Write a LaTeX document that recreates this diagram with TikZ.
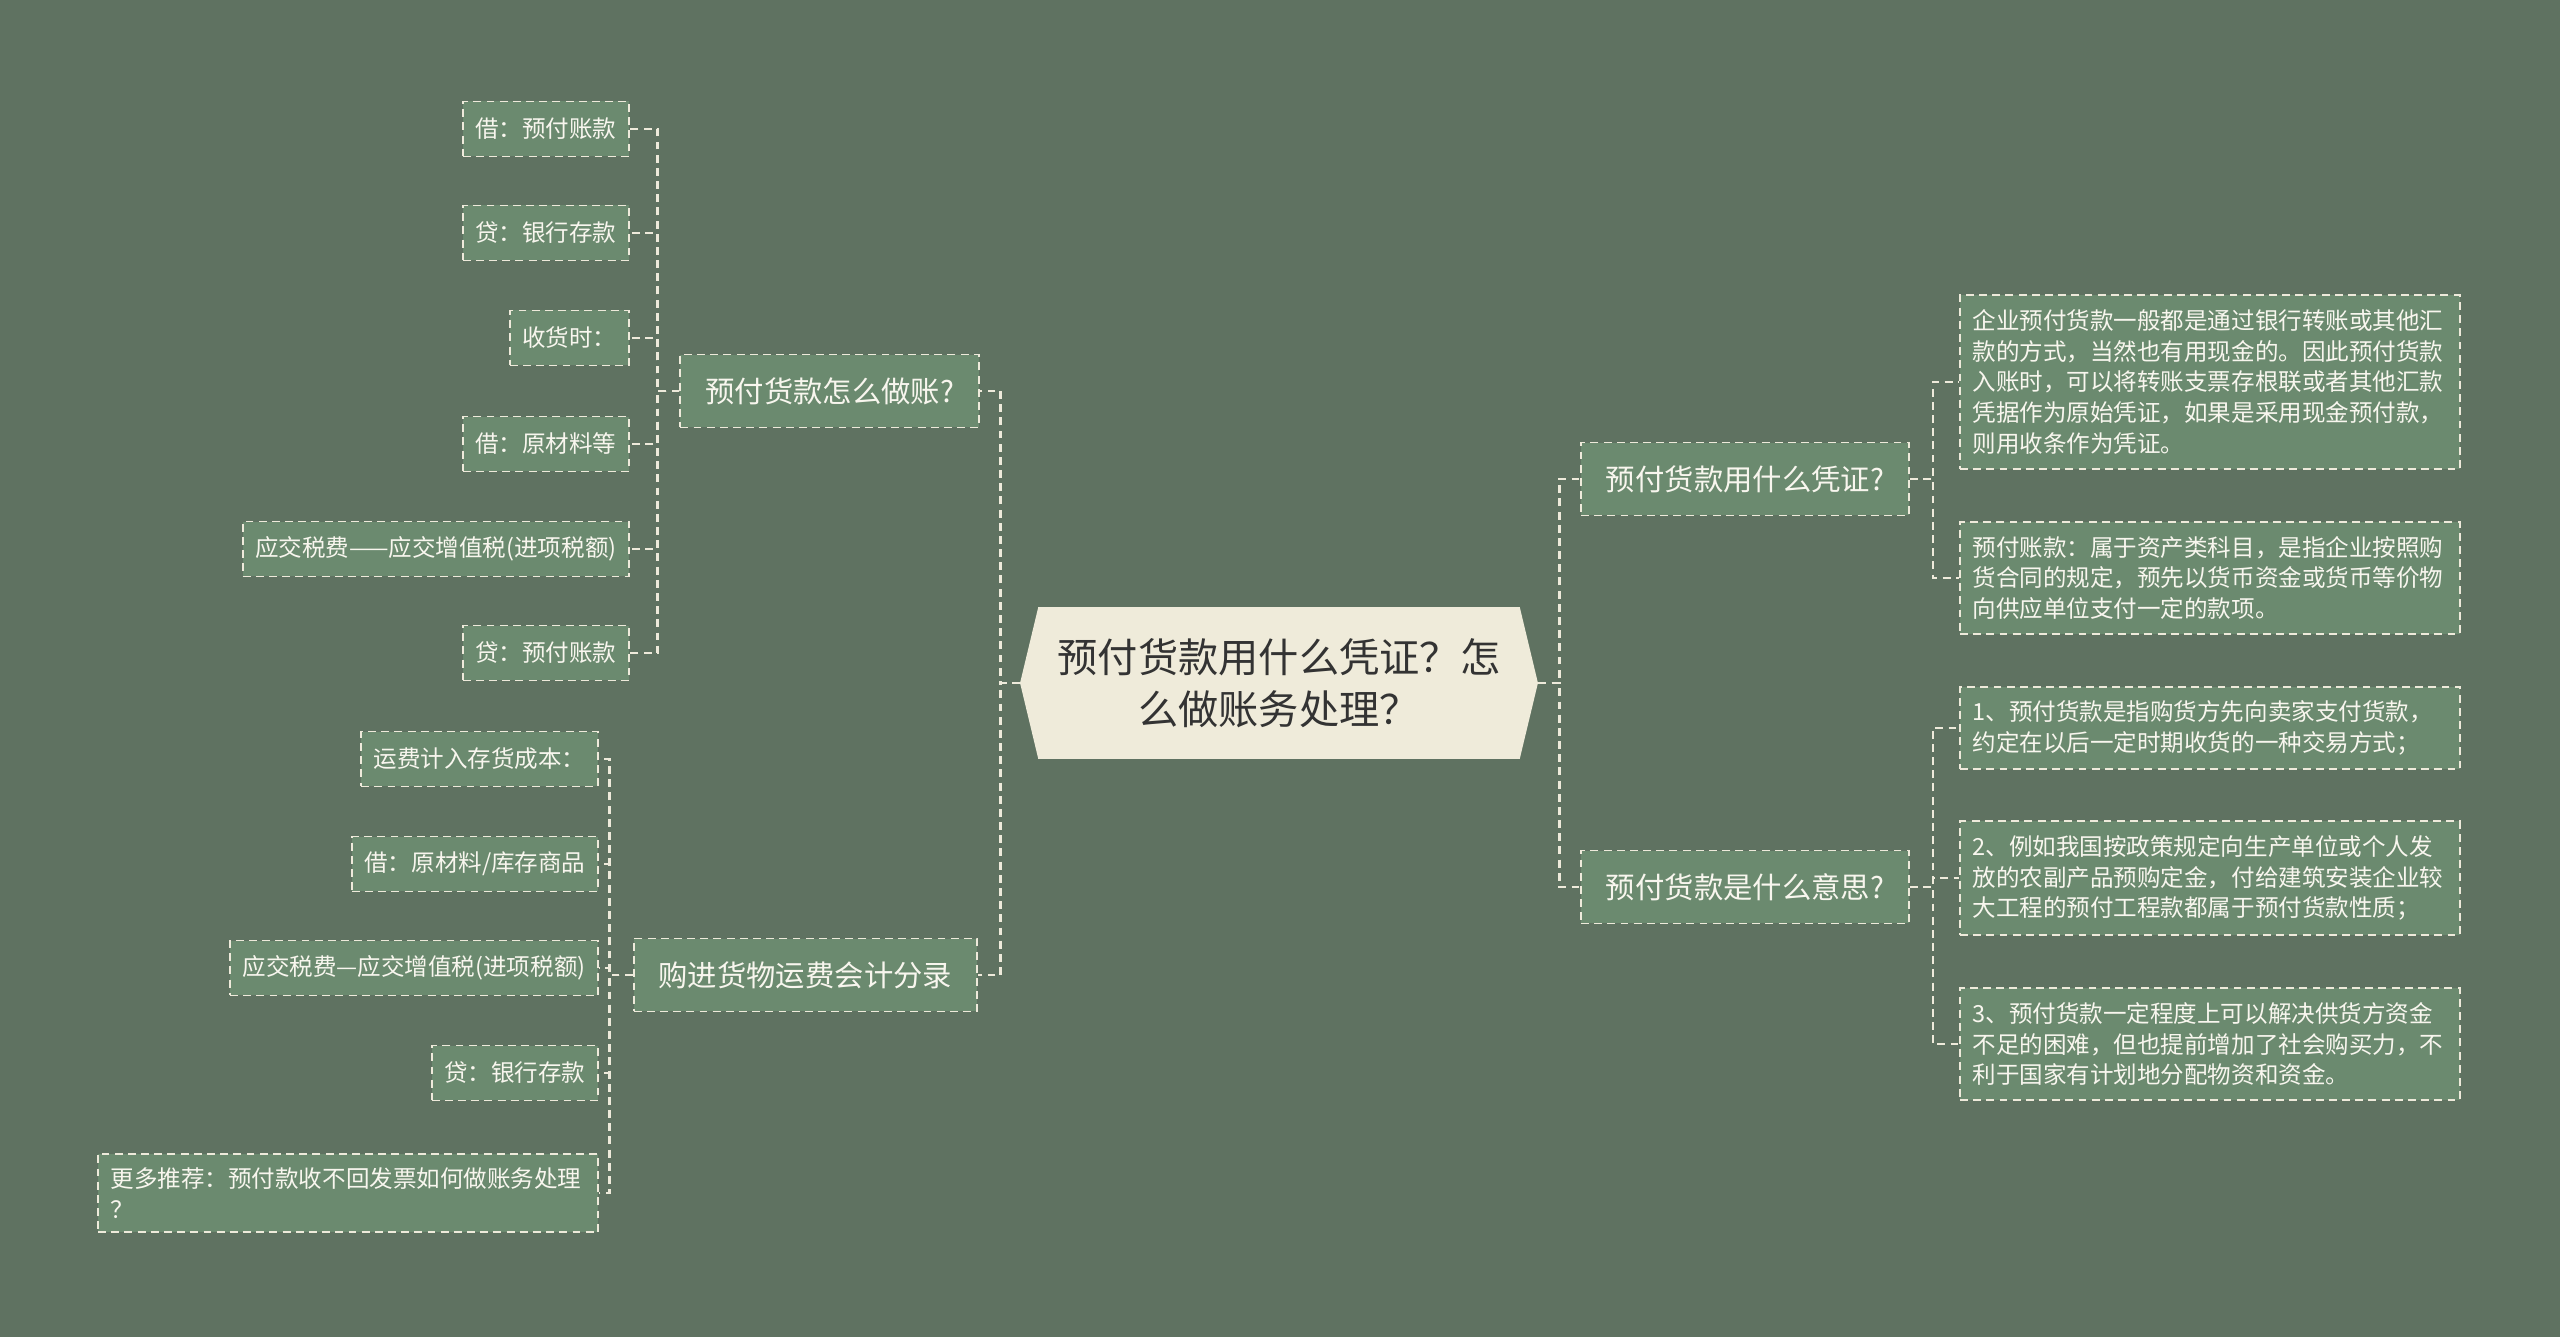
\documentclass[tikz,border=0pt]{standalone}
\usepackage{fontspec}
\newfontfamily\cjk{Noto Sans CJK SC}
\usetikzlibrary{shapes.symbols}
\definecolor{bgC}{HTML}{5F7261}
\definecolor{boxC}{HTML}{6B8A6F}
\definecolor{lineC}{HTML}{EEEADB}
\definecolor{txtC}{HTML}{F8F6EE}
\definecolor{rootC}{HTML}{EFEBDA}
\definecolor{rootT}{HTML}{333333}
\tikzset{box/.style={draw=lineC, fill=boxC, dash pattern=on 4.5pt off 3pt, line width=1.1pt, text=txtC,
    font=\cjk\fontsize{13.4}{17.6}\selectfont, inner xsep=0.25cm, inner ysep=0.28cm, minimum height=1.1cm},
topic/.style={box, font=\cjk\fontsize{16.7}{22}\selectfont, inner xsep=0.5cm, minimum height=1.46cm},
note/.style={box, text width=9.5cm, align=left, inner xsep=0.25cm},
%connectors between nodes
link/.style={draw=lineC, dash pattern=on 4.5pt off 3pt, line width=1.4pt}}

\begin{document}
\begin{tikzpicture}[x=0.02cm,y=-0.02cm]

    \fill[bgC] (0,0) rectangle (2560,1337);
    \useasboundingbox (0,0) rectangle (2560,1337);

    \node (0) [signal, signal to=west and east, signal pointer angle=153, fill=rootC, text=rootT,
      font=\cjk\fontsize{22.9}{29.6}\selectfont, text width=8.9cm, align=center,
      minimum width=10.36cm, minimum height=3.04cm] at (1279,683) {预付货款用什么凭证？怎\\么做账务处理？};

    \node (1) [topic, anchor=east] at (980,391) {预付货款怎么做账?};
    \node (2) [topic, anchor=east] at (978,975) {购进货物运费会计分录};
    \node (3) [topic, anchor=west] at (1580,479) {预付货款用什么凭证?};
    \node (4) [topic, anchor=west] at (1580,887) {预付货款是什么意思?};

    \node (10) [box, anchor=east] at (630,129) {借：预付账款};
    \node (11) [box, anchor=east] at (630,233) {贷：银行存款};
    \node (12) [box, anchor=east] at (630,338) {收货时：};
    \node (13) [box, anchor=east] at (630,444) {借：原材料等};
    \node (14) [box, anchor=east] at (630,549) {应交税费——应交增值税(进项税额)};
    \node (15) [box, anchor=east] at (630,653) {贷：预付账款};

    \node (20) [box, anchor=east] at (599,759) {运费计入存货成本：};
    \node (21) [box, anchor=east] at (599,864) {借：原材料/库存商品};
    \node (22) [box, anchor=east] at (599,968) {应交税费—应交增值税(进项税额)};
    \node (23) [box, anchor=east] at (599,1073) {贷：银行存款};
    \node (24) [note, anchor=east] at (599,1193) {更多推荐：预付款收不回发票如何做账务处理\\？};

    \node (30) [note, anchor=west] at (1959,382) {企业预付货款一般都是通过银行转账或其他汇\\款的方式，当然也有用现金的。因此预付货款\\入账时，可以将转账支票存根联或者其他汇款\\凭据作为原始凭证，如果是采用现金预付款，\\则用收条作为凭证。};
    \node (31) [note, anchor=west] at (1959,578) {预付账款：属于资产类科目，是指企业按照购\\货合同的规定，预先以货币资金或货币等价物\\向供应单位支付一定的款项。};

    \node (40) [note, anchor=west] at (1959,728) {1、预付货款是指购货方先向卖家支付货款，\\约定在以后一定时期收货的一种交易方式；};
    \node (41) [note, anchor=west] at (1959,878) {2、例如我国按政策规定向生产单位或个人发\\放的农副产品预购定金，付给建筑安装企业较\\大工程的预付工程款都属于预付货款性质；};
    \node (42) [note, anchor=west] at (1959,1044) {3、预付货款一定程度上可以解决供货方资金\\不足的困难，但也提前增加了社会购买力，不\\利于国家有计划地分配物资和资金。};

    \foreach \i in {1,2}
    \draw[link] (0.west) -- ++(-19,0) |- (\i.east);
    \foreach \i in {3,4}
    \draw[link] (0.east) -- ++(21,0) |- (\i.west);

    \foreach \i in {10,11,12,13,14,15}
    \draw[link] (1.west) -- ++(-22,0) |- (\i.east);
    \foreach \i in {20,21,22,23,24}
    \draw[link] (2.west) -- ++(-23,0) |- (\i.east);
    \foreach \i in {30,31}
    \draw[link] (3.east) -- ++(23,0) |- (\i.west);
    \foreach \i in {40,41,42}
    \draw[link] (4.east) -- ++(23,0) |- (\i.west);

\end{tikzpicture}
\end{document}
